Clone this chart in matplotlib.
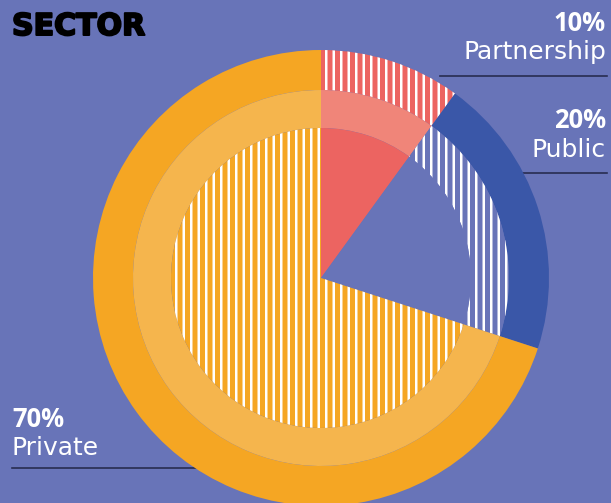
import numpy as np
from matplotlib import pyplot as plt
from matplotlib.patches import Wedge
import matplotlib.patheffects as pe

plt.rcParams['hatch.linewidth'] = 2.0
plt.rcParams['hatch.color'] = 'white'

# sector shares, clockwise from 12 o'clock
sectors = ['Partnership', 'Public', 'Private']
shares = [10, 20, 70]
pct_labels = ['10%', '20%', '70%']

bg = '#6874b8'
solid = ['#ec6461', '#3a57a8', '#f5a623']
light = ['#f08579', '#6874b8', '#f5b54d']

W, H = 611, 503
dpi = 90
fig = plt.figure(figsize=(W / dpi, H / dpi), dpi=dpi, facecolor=bg)
ax = fig.add_axes([0, 0, 1, 1])
ax.set_xlim(0, W)
ax.set_ylim(0, H)
ax.set_aspect('equal')
ax.axis('off')
ax.set_facecolor(bg)

cx, cy = 321, H - 278
r_out, r_mid, r_in = 228, 188, 150

# angles (degrees, counter-clockwise from +x) for each slice
ends = 90 - 3.6 * np.cumsum([0] + shares)
for i in range(len(shares)):
    t1, t2 = ends[i + 1], ends[i]
    outer = Wedge((cx, cy), r_out, t1, t2, width=r_out - r_mid, lw=0)
    middle = Wedge((cx, cy), r_mid, t1, t2, width=r_mid - r_in, lw=0)
    inner = Wedge((cx, cy), r_in, t1, t2, lw=0)
    if i == 0:
        # partnership: striped outer band, light band, solid core
        outer.set_facecolor(solid[i]); outer.set_edgecolor('white'); outer.set_hatch('||')
        middle.set_facecolor(light[i])
        inner.set_facecolor(solid[i])
    elif i == 1:
        # public: solid outer band, striped middle, empty core
        outer.set_facecolor(solid[i])
        middle.set_facecolor(bg); middle.set_edgecolor('white'); middle.set_hatch('||')
        inner.set_facecolor(bg)
    else:
        # private: solid outer band, light band, striped core
        outer.set_facecolor(solid[i])
        middle.set_facecolor(light[i])
        inner.set_facecolor(solid[i]); inner.set_edgecolor('white'); inner.set_hatch('||')
    for p in (outer, middle, inner):
        ax.add_patch(p)

# title
ax.text(12, H - 35, 'SECTOR', fontsize=24, fontweight='bold', family='DejaVu Sans',
        color='black', va='baseline', ha='left',
        path_effects=[pe.withStroke(linewidth=1.6, foreground='black')])

# labels with underline rules
lab_pos = [(606, 31, 59, 76, 440), (606, 128, 157, 173, 522), (12, 427, 455, 468, 197)]
for i, (x, y_pct, y_name, y_rule, x_rule) in enumerate(lab_pos):
    ha = 'right' if i < 2 else 'left'
    ax.text(x, H - y_pct, pct_labels[i], fontsize=20.5, fontweight='bold', family='Open Sans',
            color='white', ha=ha, va='baseline')
    ax.text(x, H - y_name, sectors[i], fontsize=20, fontweight='normal', family='DejaVu Sans',
            color='white', ha=ha, va='baseline')
    if i < 2:
        ax.plot([x_rule, 607], [H - y_rule] * 2, color='#262b4e', lw=1.3, zorder=0)
    else:
        ax.plot([12, x_rule], [H - y_rule] * 2, color='#262b4e', lw=1.3, zorder=0)

fig.savefig('out.png', dpi=dpi, facecolor=bg)
